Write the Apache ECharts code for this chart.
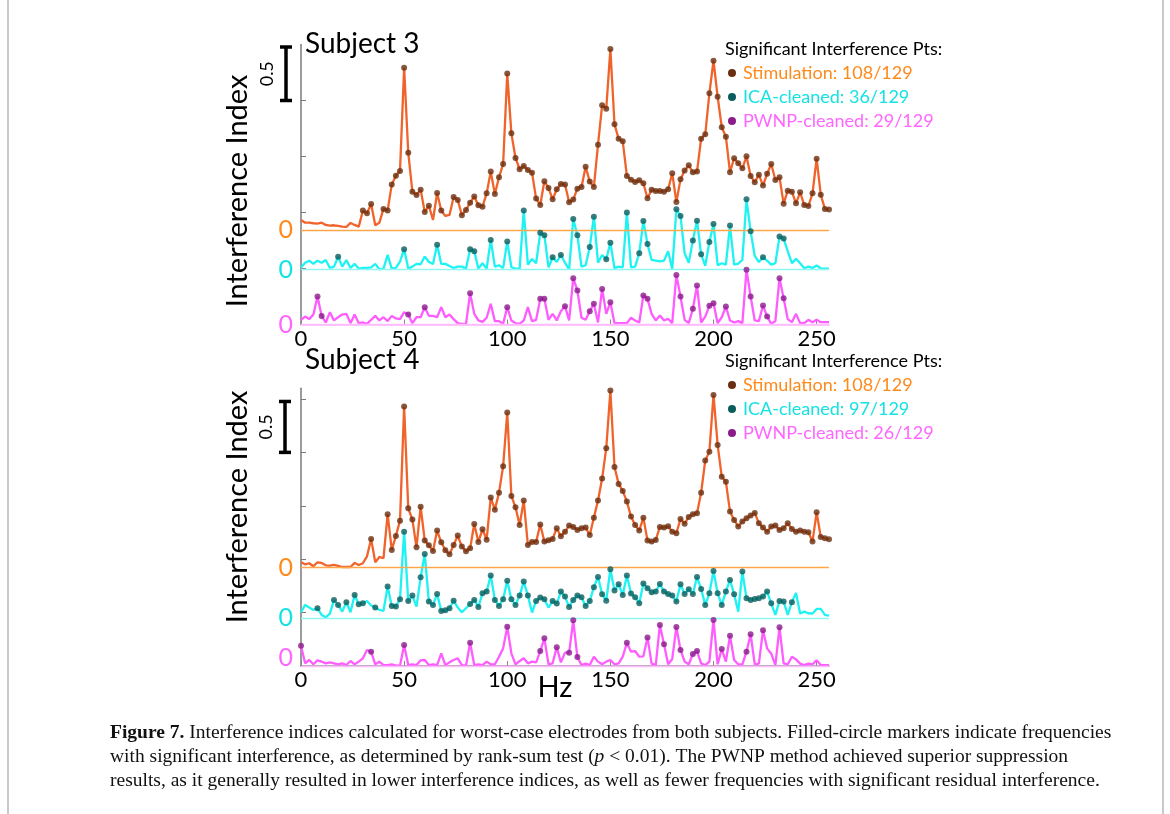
<!DOCTYPE html>
<html>
<head>
<meta charset="utf-8">
<title>Interference indices</title>
<script src="https://cdn.jsdelivr.net/npm/echarts@6/dist/echarts.min.js"></script>
<style>
  html, body { margin: 0; padding: 0; background: #ffffff; }
  #chart { width: 1170px; height: 814px; }
</style>
</head>
<body>
<div id="chart"></div>
<script>
// Frequency bins (Hz), 2 Hz resolution from 0 to 256 Hz
const binHz = 2;
const freqHz = Array.from({ length: 129 }, (_, i) => i * binHz);
const xTickHz = [0, 50, 100, 150, 200, 250];

// ---- Subject 3 interference indices ----
const s3Stim = [
  0.089,0.065,0.065,0.060,0.057,0.065,0.045,0.039,0.042,0.036,
  0.030,0.027,0.063,0.045,0.030,0.173,0.149,0.232,0.042,0.065,
  0.188,0.173,0.405,0.485,0.527,1.449,0.690,0.342,0.313,0.360,
  0.161,0.217,0.089,0.330,0.173,0.125,0.134,0.295,0.268,0.131,
  0.179,0.244,0.298,0.220,0.208,0.327,0.521,0.321,0.470,0.589,
  1.396,0.863,0.643,0.542,0.571,0.536,0.512,0.280,0.223,0.435,
  0.375,0.274,0.363,0.411,0.405,0.247,0.271,0.369,0.384,0.565,
  0.432,0.384,0.762,1.113,1.083,1.616,0.943,0.815,0.792,0.482,
  0.449,0.429,0.443,0.417,0.283,0.360,0.348,0.348,0.342,0.363,
  0.506,0.250,0.452,0.530,0.577,0.515,0.521,0.815,0.854,1.220,
  1.512,1.190,0.917,0.833,0.515,0.640,0.595,0.551,0.658,0.482,
  0.426,0.494,0.396,0.503,0.589,0.446,0.470,0.235,0.351,0.342,
  0.238,0.336,0.223,0.214,0.327,0.637,0.315,0.188,0.182
];
const s3Ica = [
  0.021,0.065,0.083,0.054,0.083,0.065,0.089,0.018,0.030,0.119,
  0.030,0.089,0.018,0.054,0.012,0.018,0.018,0.024,0.054,0.006,
  0.012,0.134,0.012,0.018,0.074,0.185,0.012,0.030,0.054,0.051,
  0.119,0.071,0.054,0.226,0.054,0.054,0.036,0.018,0.030,0.030,
  0.012,0.185,0.167,0.012,0.060,0.012,0.268,0.030,0.042,0.018,
  0.253,0.024,0.012,0.012,0.530,0.048,0.098,0.060,0.333,0.310,
  0.024,0.113,0.071,0.134,0.065,0.006,0.455,0.310,0.030,0.042,
  0.205,0.476,0.065,0.134,0.095,0.244,0.015,0.030,0.024,0.512,
  0.024,0.030,0.149,0.438,0.232,0.089,0.083,0.077,0.083,0.167,
  0.006,0.542,0.482,0.149,0.065,0.262,0.440,0.140,0.036,0.250,
  0.411,0.042,0.060,0.048,0.396,0.048,0.057,0.089,0.631,0.345,
  0.125,0.071,0.113,0.083,0.048,0.060,0.298,0.280,0.167,0.060,
  0.101,0.060,0.015,0.030,0.018,0.039,0.015,0.012,0.012
];
const s3Pwnp = [
  0.042,0.071,0.048,0.089,0.250,0.077,0.018,0.110,0.036,0.065,
  0.089,0.095,0.012,0.089,0.012,0.018,0.006,0.042,0.077,0.036,
  0.065,0.030,0.077,0.054,0.048,0.110,0.089,0.012,0.065,0.065,
  0.155,0.077,0.077,0.065,0.155,0.065,0.089,0.048,0.012,0.006,
  0.006,0.280,0.095,0.036,0.024,0.060,0.185,0.030,0.030,0.006,
  0.155,0.036,0.012,0.006,0.036,0.155,0.030,0.042,0.229,0.229,
  0.042,0.095,0.036,0.119,0.164,0.036,0.414,0.304,0.060,0.042,
  0.119,0.185,0.018,0.318,0.095,0.199,0.012,0.012,0.012,0.012,
  0.060,0.036,0.018,0.259,0.229,0.095,0.036,0.080,0.036,0.051,
  0.012,0.443,0.250,0.042,0.012,0.140,0.348,0.018,0.071,0.167,
  0.190,0.012,0.065,0.161,0.036,0.018,0.030,0.012,0.488,0.250,
  0.036,0.030,0.170,0.071,0.006,0.030,0.414,0.235,0.048,0.021,
  0.095,0.012,0.012,0.042,0.021,0.042,0.021,0.021,0.021
];
// bin indices: stimulation bins WITHOUT significance; cleaned bins WITH significance
const s3StimNotSig = [0,1,2,3,4,5,6,7,8,9,10,11,12,13,14,18,19,32,35,36];
const s3IcaSig = [9,25,33,41,42,46,50,54,58,59,61,63,66,67,70,71,74,75,79,82,83,84,91,92,95,96,97,99,100,104,108,109,112,116,117];
const s3PwnpSig = [4,5,26,30,41,50,58,59,64,66,67,70,71,73,75,83,84,91,92,95,96,99,100,103,108,109,112,113,116,117];
const s3Legend = ['Stimulation: 108/129', 'ICA-cleaned: 36/129', 'PWNP-cleaned: 29/129'];

// ---- Subject 4 interference indices ----
const s4Stim = [
  0.056,0.037,0.047,0.019,0.056,0.050,0.028,0.025,0.031,0.022,
  0.012,0.012,0.012,0.050,0.031,0.047,0.112,0.275,0.056,0.106,
  0.094,0.506,0.172,0.303,0.446,1.514,0.562,0.456,0.197,0.577,
  0.259,0.215,0.162,0.353,0.243,0.169,0.131,0.218,0.306,0.203,
  0.159,0.187,0.415,0.247,0.365,0.268,0.662,0.549,0.708,0.955,
  1.458,0.677,0.571,0.406,0.634,0.218,0.247,0.247,0.409,0.250,
  0.262,0.275,0.375,0.300,0.343,0.400,0.387,0.359,0.375,0.381,
  0.312,0.474,0.634,0.840,1.124,1.664,0.949,0.790,0.724,0.624,
  0.484,0.406,0.353,0.474,0.259,0.250,0.265,0.387,0.381,0.393,
  0.343,0.328,0.462,0.418,0.481,0.506,0.515,0.708,1.008,1.092,
  1.623,1.155,0.858,0.811,0.531,0.453,0.390,0.437,0.468,0.493,
  0.518,0.421,0.381,0.343,0.390,0.400,0.359,0.375,0.421,0.368,
  0.343,0.353,0.343,0.337,0.250,0.524,0.293,0.281,0.272
];
const s4Ica = [
  0.056,0.125,0.100,0.078,0.094,0.031,0.009,0.044,0.172,0.125,
  0.062,0.150,0.056,0.218,0.131,0.140,0.162,0.119,0.100,0.078,
  0.069,0.297,0.115,0.109,0.178,0.811,0.162,0.212,0.109,0.384,
  0.602,0.156,0.125,0.228,0.069,0.075,0.094,0.165,0.100,0.056,
  0.094,0.134,0.172,0.106,0.234,0.250,0.400,0.172,0.115,0.178,
  0.350,0.178,0.125,0.212,0.343,0.212,0.053,0.162,0.194,0.178,
  0.100,0.162,0.137,0.250,0.203,0.106,0.172,0.212,0.197,0.115,
  0.162,0.290,0.387,0.225,0.165,0.459,0.259,0.318,0.218,0.400,
  0.231,0.197,0.140,0.325,0.281,0.243,0.250,0.321,0.250,0.228,
  0.212,0.156,0.318,0.228,0.272,0.228,0.387,0.275,0.125,0.234,
  0.443,0.234,0.125,0.250,0.359,0.225,0.062,0.437,0.187,0.172,
  0.181,0.187,0.203,0.250,0.140,0.031,0.162,0.156,0.031,0.150,
  0.237,0.044,0.062,0.047,0.044,0.087,0.087,0.031,0.025
];
const s4Pwnp = [
  0.190,0.025,0.056,0.016,0.053,0.041,0.025,0.034,0.025,0.016,
  0.025,0.009,0.047,0.016,0.041,0.072,0.150,0.134,0.016,0.041,
  0.009,0.009,0.016,0.003,0.003,0.197,0.009,0.016,0.009,0.053,
  0.056,0.009,0.016,0.009,0.119,0.009,0.034,0.056,0.072,0.009,
  0.003,0.218,0.009,0.016,0.009,0.041,0.016,0.016,0.087,0.165,
  0.368,0.119,0.016,0.047,0.072,0.025,0.041,0.034,0.140,0.259,
  0.016,0.025,0.175,0.034,0.125,0.125,0.428,0.084,0.009,0.022,
  0.009,0.087,0.041,0.016,0.041,0.056,0.016,0.025,0.087,0.218,
  0.134,0.140,0.087,0.091,0.268,0.022,0.009,0.384,0.203,0.016,
  0.066,0.365,0.150,0.041,0.016,0.112,0.140,0.025,0.009,0.041,
  0.431,0.016,0.159,0.041,0.284,0.056,0.016,0.016,0.134,0.297,
  0.016,0.022,0.334,0.165,0.115,0.009,0.362,0.025,0.016,0.087,
  0.062,0.022,0.009,0.022,0.016,0.053,0.009,0.009,0.009
];
const s4StimNotSig = [0,1,2,3,4,5,6,7,8,9,10,11,12,13,14,15,16,18,19,20];
const s4IcaNotSig = [0,1,2,3,5,6,7,10,12,16,17,19,20,28,38,39,40,56,60,106,115,118,120,121,122,123,124,125,126,127,128];
const s4PwnpSig = [0,17,25,41,50,58,59,62,65,66,67,79,84,87,88,91,92,95,96,100,102,104,108,109,112,116];
const s4Legend = ['Stimulation: 108/129', 'ICA-cleaned: 97/129', 'PWNP-cleaned: 26/129'];

const legendHeader = 'Significant Interference Pts:';

// ---- styling ----
const FONT = 'Lato, "Open Sans", sans-serif';
const SERIF = '"Liberation Serif", "DejaVu Serif", serif';
const colors = {
  stim: { line: '#f0632b', zero: '#ffa64a', dot: '#6a2f10', text: '#ff8a1c' },
  ica:  { line: '#1ef2f2', zero: '#8ff5f5', dot: '#0b5d5d', text: '#16e2e2' },
  pwnp: { line: '#ff5cff', zero: '#ffbdfd', dot: '#8b1c8b', text: '#ff66ff' }
};

const allBins = freqHz.map((_, i) => i);
const complement = (list) => allBins.filter(i => list.indexOf(i) < 0);

const panels = [
  {
    title: 'Subject 3', titleY: 43.5, grid: { left: 301, right: 341, top: 44.5, bottom: 489.5 },
    yMax: 2.5, yTicks: [0.5, 1, 1.5, 2],
    off: { stim: 0.844, ica: 0.487, pwnp: 0 }, pwnpZeroShift: 0, xLine: '#ffb4ff',
    vals: { stim: s3Stim, ica: s3Ica, pwnp: s3Pwnp },
    sig: { stim: complement(s3StimNotSig), ica: s3IcaSig, pwnp: s3PwnpSig },
    legend: s3Legend, legendTop: 49, barX: 286, yName: 191
  },
  {
    title: 'Subject 4', titleY: 359.5, grid: { left: 301, right: 341, top: 388.3, bottom: 148 },
    yMax: 2.6, yTicks: [0.5, 1, 1.5, 2, 2.5],
    off: { stim: 0.915, ica: 0.447, pwnp: 0 }, pwnpZeroShift: -8, xLine: '#9a8a9a',
    vals: { stim: s4Stim, ica: s4Ica, pwnp: s4Pwnp },
    sig: { stim: complement(s4StimNotSig), ica: complement(s4IcaNotSig), pwnp: s4PwnpSig },
    legend: s4Legend, legendTop: 361, barX: 285, yName: 507
  }
];

const keys = ['stim', 'ica', 'pwnp'];
const grids = [], xAxes = [], yAxes = [], series = [];

panels.forEach((p, gi) => {
  grids.push(Object.assign({ containLabel: false }, p.grid));
  xAxes.push({
    type: 'value', gridIndex: gi, min: 0, max: 256,
    axisLine: { show: true, onZero: false, lineStyle: { color: p.xLine, width: 1.5 } },
    axisTick: { show: true, inside: true, length: 5, customValues: xTickHz, lineStyle: { color: '#888', width: 1 } },
    axisLabel: { show: true, customValues: xTickHz, color: '#000', fontSize: 22, fontFamily: FONT, margin: 3 },
    splitLine: { show: false }
  });
  yAxes.push({
    type: 'value', gridIndex: gi, min: 0, max: p.yMax,
    axisLine: { show: true, onZero: false, lineStyle: { color: '#7a7a7a', width: 1.5 } },
    axisTick: { show: true, inside: true, length: 5, customValues: p.yTicks, lineStyle: { color: '#7a7a7a', width: 1 } },
    axisLabel: { show: false },
    splitLine: { show: false }
  });
  keys.forEach(k => {
    const off = p.off[k];
    const vals = p.vals[k];
    series.push({
      name: p.title + ' ' + k, type: 'line', xAxisIndex: gi, yAxisIndex: gi,
      showSymbol: false, animation: false, z: 3,
      data: freqHz.map((f, i) => [f, vals[i] + off]),
      lineStyle: { color: colors[k].line, width: 2.3 },
      itemStyle: { color: colors[k].line },
      markLine: {
        silent: true, symbol: 'none', animation: false,
        data: [{ yAxis: off }],
        lineStyle: { color: colors[k].zero, width: 1.4, type: 'solid' },
        label: {
          show: true, position: 'start', formatter: '0', distance: 8,
          color: colors[k].text, fontSize: 25, fontFamily: FONT,
          offset: [0, k === 'pwnp' ? p.pwnpZeroShift : 0]
        }
      }
    });
    series.push({
      name: p.title + ' ' + k + ' significant', type: 'scatter', xAxisIndex: gi, yAxisIndex: gi,
      symbol: 'circle', symbolSize: 6, animation: false, z: 5,
      itemStyle: { color: colors[k].dot },
      data: p.sig[k].map(i => [freqHz[i], vals[i] + off])
    });
  });
});

const chart = echarts.init(document.getElementById('chart'));
chart.setOption({
  backgroundColor: '#ffffff',
  animation: false,
  grid: grids, xAxis: xAxes, yAxis: yAxes, series: series
});

// ---- annotations: titles, axis names, scale bars, legends, caption ----
const graphics = [];
const text = (x, y, str, style, extra) => graphics.push(Object.assign({
  type: 'text', x: x, y: y, silent: true,
  style: Object.assign({ text: str, fontFamily: FONT, fill: '#000' }, style)
}, extra || {}));

panels.forEach((p, gi) => {
  const yTopPx = chart.convertToPixel({ gridIndex: gi }, [0, p.yMax])[1];
  // panel title
  text(305, p.titleY, p.title, { fontSize: 28, textAlign: 'left', textVerticalAlign: 'middle' });
  // rotated axis name
  text(238, p.yName, 'Interference Index', { fontSize: 29, textAlign: 'center', textVerticalAlign: 'middle' }, { rotation: Math.PI / 2 });
  // 0.5-unit scale bar
  const yA = chart.convertToPixel({ gridIndex: gi }, [0, 2.0])[1];
  const yB = chart.convertToPixel({ gridIndex: gi }, [0, 2.5])[1];
  const barTop = Math.max(yB, yTopPx) + 2.5;
  graphics.push({ type: 'line', silent: true, shape: { x1: p.barX, y1: barTop, x2: p.barX, y2: yA }, style: { stroke: '#000', lineWidth: 3.5 } });
  graphics.push({ type: 'line', silent: true, shape: { x1: p.barX - 6, y1: barTop, x2: p.barX + 6, y2: barTop }, style: { stroke: '#000', lineWidth: 3.5 } });
  graphics.push({ type: 'line', silent: true, shape: { x1: p.barX - 6, y1: yA, x2: p.barX + 6, y2: yA }, style: { stroke: '#000', lineWidth: 3.5 } });
  text(p.barX - 19, (barTop + yA) / 2, '0.5', { fontSize: 18, textAlign: 'center', textVerticalAlign: 'middle' }, { rotation: Math.PI / 2 });
  // legend
  text(725, p.legendTop, legendHeader, { fontSize: 18, textAlign: 'left', textVerticalAlign: 'middle' });
  keys.forEach((k, j) => {
    const ly = p.legendTop + 24 * (j + 1);
    graphics.push({ type: 'circle', silent: true, shape: { cx: 732, cy: ly, r: 4 }, style: { fill: colors[k].dot } });
    text(743, ly, p.legend[j], { fontSize: 18, fill: colors[k].text, textAlign: 'left', textVerticalAlign: 'middle' });
  });
});

// frequency axis name
text(555, 688, 'Hz', { fontSize: 29, textAlign: 'center', textVerticalAlign: 'middle' });

// figure caption
const capSize = 19.5;
const capStyle = {
  fontFamily: SERIF, fontSize: capSize, fill: '#111', textAlign: 'left', textVerticalAlign: 'middle',
  rich: {
    b: { fontFamily: SERIF, fontSize: capSize, fontWeight: 'bold', fill: '#111' },
    i: { fontFamily: SERIF, fontSize: capSize, fontStyle: 'italic', fill: '#111' }
  }
};
text(110, 733, '{b|Figure 7.} Interference indices calculated for worst-case electrodes from both subjects. Filled-circle markers indicate frequencies', capStyle);
text(110, 757, 'with significant interference, as determined by rank-sum test ({i|p} < 0.01). The PWNP method achieved superior suppression', capStyle);
text(110, 781, 'results, as it generally resulted in lower interference indices, as well as fewer frequencies with significant residual interference.', capStyle);

// page frame rules
graphics.push({ type: 'line', silent: true, shape: { x1: 8, y1: 0, x2: 8, y2: 814 }, style: { stroke: '#c9c9c9', lineWidth: 2 } });
graphics.push({ type: 'line', silent: true, shape: { x1: 1163, y1: 0, x2: 1163, y2: 814 }, style: { stroke: '#c9c9c9', lineWidth: 2 } });

chart.setOption({ graphic: graphics });
</script>
</body>
</html>
